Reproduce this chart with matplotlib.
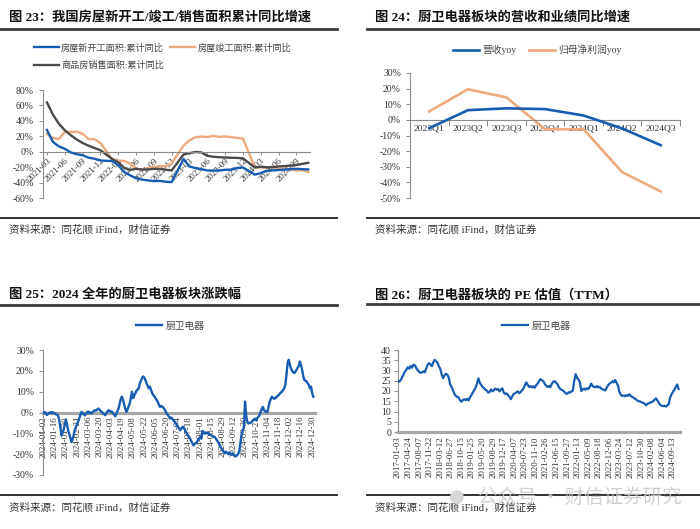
import matplotlib
matplotlib.use('Agg')
import matplotlib.pyplot as plt
from matplotlib.lines import Line2D
import numpy as np

plt.rcParams['font.family'] = ['Liberation Serif', 'Noto Sans CJK SC']
plt.rcParams['axes.unicode_minus'] = False

# ---------------- data ----------------
# Panel 1: housing cumulative yoy (%), monthly (January merged into Feb)
months1 = ['2021-03', '2021-04', '2021-05', '2021-06', '2021-07', '2021-08', '2021-09', '2021-10', '2021-11', '2021-12',
           '2022-02', '2022-03', '2022-04', '2022-05', '2022-06', '2022-07', '2022-08', '2022-09', '2022-10', '2022-11', '2022-12',
           '2023-02', '2023-03', '2023-04', '2023-05', '2023-06', '2023-07', '2023-08', '2023-09', '2023-10', '2023-11', '2023-12',
           '2024-02', '2024-03', '2024-04', '2024-05', '2024-06', '2024-07', '2024-08', '2024-09', '2024-10', '2024-11']
new_start = [28.2, 12.8, 6.9, 3.8, -0.9, -3.2, -4.5, -7.7, -9.1, -11.4,
             -12.2, -17.5, -26.3, -30.6, -34.4, -36.1, -37.2, -38.0, -37.8, -38.9, -39.4,
             -9.4, -19.2, -21.2, -22.6, -24.3, -24.5, -24.4, -23.4, -23.2, -21.2, -20.4,
             -29.7, -27.8, -24.6, -24.2, -23.7, -23.2, -22.5, -22.2, -22.6, -23.0]
completion = [22.9, 17.9, 16.4, 25.7, 25.7, 26.0, 23.4, 16.3, 16.2, 11.2,
              -9.8, -11.5, -11.9, -15.3, -21.5, -23.3, -21.1, -19.9, -18.7, -19.0, -15.0,
              8.0, 14.7, 18.8, 19.6, 19.0, 20.5, 19.2, 19.8, 19.0, 17.9, 17.0,
              -20.2, -20.7, -20.4, -19.2, -21.8, -21.8, -23.2, -24.4, -23.9, -26.2]
sales = [63.8, 48.1, 36.3, 27.7, 21.5, 15.9, 11.3, 7.8, 4.8, 1.9,
         -9.6, -13.8, -20.9, -23.6, -22.2, -23.1, -23.0, -22.2, -22.3, -23.3, -24.3,
         -3.6, -1.8, -0.4, -0.9, -5.3, -6.5, -7.1, -7.5, -7.8, -8.0, -8.5,
         -20.5, -19.4, -20.2, -20.3, -19.0, -18.6, -18.0, -17.1, -15.8, -14.3]
ticks1 = ['2021-03', '2021-06', '2021-09', '2021-12', '2022-03', '2022-06', '2022-09', '2022-12',
          '2023-03', '2023-06', '2023-09', '2023-12', '2024-03', '2024-06', '2024-09']
names1 = ['房屋新开工面积:累计同比', '房屋竣工面积:累计同比', '商品房销售面积:累计同比']

# Panel 2: revenue / net profit yoy (%)
quarters = ['2023Q1', '2023Q2', '2023Q3', '2023Q4', '2024Q1', '2024Q2', '2024Q3']
revenue_yoy = [-5.3, 6.2, 7.4, 6.9, 2.8, -5.5, -16.2]
profit_yoy = [5.4, 19.6, 14.4, -6.0, -6.0, -33.4, -45.8]
names2 = ['营收yoy', '归母净利润yoy']

# Panel 3: 2024 daily cumulative change (%) of the sector, one value per trading day
change_2024 = [0.0, 0.2, -0.3, -1.2, -0.6, -0.2, 0.1, -0.4, 0.2, -0.3,
               -0.4, -0.9, -1.0, -1.5, -3.8, -7.0, -11.0, -9.8, -8.2, -5.6,
               -3.4, -5.8, -8.6, -10.4, -12.2, -14.2, -12.8, -10.6, -8.4, -6.8,
               -5.4, -4.2, -2.6, -1.0, 0.3, -0.4, -0.9, -1.4, -0.6, 0.2,
               0.4, -0.3, 0.0, -0.5, 0.3, 0.8, 1.1, 0.9, 1.5, 1.9,
               1.4, 0.6, 0.3, -0.4, -0.8, -1.3, -0.5, 0.4, 1.1, 0.7,
               0.3, 0.5, -0.4, -1.0, -1.8, -0.6, 0.8, 1.9, 4.2, 6.5,
               7.6, 6.0, 4.0, 1.8, 0.3, 1.5, 3.0, 4.4, 7.2, 10.0,
               6.8, 8.2, 9.2, 10.4, 11.0, 11.6, 14.0, 15.2, 16.6, 17.3,
               16.8, 15.6, 14.0, 12.8, 11.6, 12.4, 10.8, 9.4, 8.4, 7.8,
               6.8, 6.0, 5.2, 3.8, 2.7, 3.2, 2.8, 2.4, 1.6, 0.6,
               -0.5, -1.2, -2.0, -2.9, -2.4, -3.0, -3.7, -4.4, -5.2, -6.1,
               -6.8, -7.6, -8.5, -7.8, -7.0, -6.9, -8.0, -9.2, -10.2, -11.0,
               -11.8, -12.6, -13.8, -14.8, -15.8, -15.0, -14.6, -14.2, -13.2, -12.4,
               -11.8, -12.6, -8.8, -9.4, -10.2, -9.6, -10.0, -9.8, -10.4, -10.8,
               -11.0, -11.4, -11.6, -11.8, -12.6, -13.4, -14.2, -15.4, -16.4, -17.4,
               -18.0, -19.0, -19.6, -18.8, -19.4, -20.0, -19.2, -19.8, -20.4, -19.6,
               -20.2, -20.8, -21.0, -20.4, -19.8, -18.2, -14.0, -10.6, -8.4, -7.2,
               5.2, -1.5, -4.6, -5.3, -4.9, -5.0, -4.5, -3.8, -3.3, -2.9,
               -3.7, -2.6, -2.0, -1.3, 0.4, 1.8, 2.7, 1.1, 0.6, 0.2,
               0.3, 2.8, 5.2, 6.4, 7.6, 7.0, 6.6, 6.8, 7.4, 7.9,
               8.4, 9.0, 9.6, 10.0, 10.8, 11.6, 13.2, 18.0, 23.7, 25.3,
               23.0, 21.3, 20.0, 19.4, 18.9, 19.6, 20.5, 21.3, 22.4, 24.5,
               22.8, 20.5, 17.4, 15.6, 15.2, 14.8, 14.0, 13.2, 11.6, 12.4,
               9.2, 7.6]
ticks3 = ['2024-01-02', '2024-01-16', '2024-01-30', '2024-02-21', '2024-03-06', '2024-03-20', '2024-04-03',
          '2024-04-19', '2024-05-08', '2024-05-22', '2024-06-05', '2024-06-20', '2024-07-04', '2024-07-18',
          '2024-08-01', '2024-08-15', '2024-08-29', '2024-09-12', '2024-09-30', '2024-10-21', '2024-11-04',
          '2024-11-18', '2024-12-02', '2024-12-16', '2024-12-30']
tick3_step = 10  # trading days between labels

# Panel 4: PE (TTM), one value per 10 trading days from 2017-01-03
pe_ttm = [25.0, 24.6, 25.4, 26.8, 28.2, 29.6, 30.4, 31.6, 30.9, 32.2,
          31.4, 32.8, 32.5, 31.2, 30.1, 29.3, 28.9, 29.0, 29.6, 29.1,
          31.0, 32.8, 33.6, 33.0, 32.1, 34.0, 35.2, 34.6, 33.8, 32.0,
          30.8, 28.0, 26.3, 27.6, 28.4, 28.0, 26.5, 23.2, 22.0, 20.4,
          18.6, 17.6, 17.2, 16.8, 15.4, 14.8, 15.6, 16.0, 15.5, 16.2,
          15.4, 16.8, 18.0, 19.2, 20.4, 21.6, 23.5, 26.2, 24.0, 23.0,
          22.0, 21.4, 20.6, 20.2, 19.2, 19.6, 20.8, 19.8, 20.4, 21.2,
          20.6, 21.0, 19.8, 20.6, 21.3, 19.2, 18.6, 18.8, 18.0, 17.2,
          16.0, 17.4, 18.5, 18.9, 19.4, 19.8, 19.0, 19.5, 20.4, 21.2,
          22.8, 24.2, 23.0, 22.0, 22.4, 21.8, 22.3, 21.6, 22.8, 23.6,
          24.8, 25.8, 25.2, 24.8, 23.6, 22.6, 22.0, 22.4, 21.8, 23.4,
          24.4, 24.8, 24.2, 23.4, 22.0, 21.0, 20.6, 20.2, 19.6, 18.8,
          18.6, 19.4, 19.2, 19.8, 20.2, 25.0, 28.2, 26.4, 25.6, 24.2,
          20.0, 20.8, 21.2, 20.6, 21.4, 21.0, 22.0, 23.6, 22.4, 22.0,
          21.8, 22.4, 21.8, 22.0, 21.2, 20.8, 20.6, 20.2, 21.6, 22.8,
          23.6, 24.0, 24.8, 24.2, 25.4, 24.0, 22.6, 19.6, 18.2, 17.6,
          17.8, 17.4, 18.0, 17.6, 18.4, 17.6, 17.2, 16.8, 16.2, 15.8,
          15.2, 15.0, 14.8, 14.4, 14.2, 13.8, 13.0, 13.8, 14.0, 14.4,
          14.6, 15.0, 15.8, 16.4, 15.4, 14.2, 13.2, 12.8, 12.6, 12.8,
          12.4, 12.9, 13.6, 16.8, 18.4, 19.6, 20.6, 22.0, 23.2, 21.0]
pe_step = 10
ticks4 = ['2017-01-03', '2017-04-24', '2017-08-07', '2017-11-22', '2018-03-12', '2018-06-27', '2018-10-15',
          '2019-01-25', '2019-05-20', '2019-08-29', '2019-12-17', '2020-04-07', '2020-07-23', '2020-11-10',
          '2021-02-26', '2021-06-15', '2021-09-27', '2022-01-13', '2022-05-09', '2022-08-18', '2022-12-06',
          '2023-03-24', '2023-07-12', '2023-10-30', '2024-02-08', '2024-06-04', '2024-09-13']
tick4_step = 75
sector = '厨卫电器'

titles = ['图 23：我国房屋新开工/竣工/销售面积累计同比增速',
          '图 24：厨卫电器板块的营收和业绩同比增速',
          '图 25：2024 全年的厨卫电器板块涨跌幅',
          '图 26：厨卫电器板块的 PE 估值（TTM）']
source = '资料来源：同花顺 iFind，财信证券'

# ---------------- styles ----------------
BLUE = '#175CB0'
ORANGE = '#EDAA7E'
DARK = '#4A4A4A'
AXC = '#8C8C8C'
THICK = '#A6A6A6'

W, H = 700, 529
fig = plt.figure(figsize=(7, 5.29), dpi=100)


def rect(x0, y0, x1, y1):
    return [x0 / W, 1 - y1 / H, (x1 - x0) / W, (y1 - y0) / H]


def fx(x):
    return x / W


def fy(y):
    return 1 - y / H


def hline(x0, x1, y, lw, color):
    fig.add_artist(Line2D([fx(x0), fx(x1)], [fy(y), fy(y)], lw=lw, color=color,
                          transform=fig.transFigure))


def frame(x_title, y_title, x0, x1, y_ul, y_bl, y_src, title):
    fig.text(fx(x_title), fy(y_title), title, fontsize=9.5, fontweight='bold',
             va='center', ha='left', color='#111111')
    hline(x0, x1, y_ul, 2.0, '#3A3A3A')
    hline(x0, x1, y_bl, 1.3, '#222222')
    fig.text(fx(x_title), fy(y_src), source, fontsize=7.6, va='center', ha='left',
             color='#333333')


def style_axes(ax):
    for s in ['top', 'right']:
        ax.spines[s].set_visible(False)
    ax.spines['left'].set_color(AXC)
    ax.spines['left'].set_linewidth(0.8)
    ax.spines['bottom'].set_color(AXC)
    ax.spines['bottom'].set_linewidth(0.8)
    ax.tick_params(axis='both', colors=AXC, labelcolor='#333333', labelsize=7,
                   length=3, width=0.7)
    ax.patch.set_alpha(0)


frame(9, 17, 0, 337, 29.3, 218.3, 229, titles[0])
frame(375, 17, 367, 700, 29.3, 218.3, 229, titles[1])
frame(9, 295, 0, 337, 305, 495, 507, titles[2])
frame(375, 295, 367, 700, 304, 495, 507, titles[3])


def month_index(s):
    y, m = s.split('-')
    return (int(y) - 2021) * 12 + int(m) - 3


# ---------------- panel 1 ----------------
ax1 = fig.add_axes(rect(43, 90, 310, 198))
style_axes(ax1)
x1 = [month_index(m) for m in months1]
l_ns, = ax1.plot(x1, new_start, color=BLUE, lw=1.7, zorder=3)
l_cp, = ax1.plot(x1, completion, color=ORANGE, lw=1.7, zorder=2)
l_sa, = ax1.plot(x1, sales, color=DARK, lw=1.7, zorder=2)
ax1.set_ylim(-60, 80)
ax1.set_xlim(-0.67, 44.3)
ax1.set_yticks(np.arange(-60, 81, 20))
ax1.set_yticklabels([f'{v}%' for v in range(-60, 81, 20)])
ax1.spines['bottom'].set_position(('data', 0))
ax1.set_xticks([month_index(t) for t in ticks1])
ax1.set_xticklabels(ticks1, rotation=45, ha='right', va='top', rotation_mode='anchor', fontsize=6.5)
ax1.tick_params(axis='x', length=2, pad=1.5)
leg1 = ax1.legend([l_ns, l_sa, l_cp], [names1[0], names1[2], names1[1]], ncol=2,
                  loc='upper left', bbox_to_anchor=(fx(34), fy(43)), bbox_transform=fig.transFigure,
                  frameon=False, fontsize=6.6, handlelength=2.7, handletextpad=0.25,
                  columnspacing=0.7, labelspacing=0.95, borderpad=0, borderaxespad=0)
for t in leg1.get_texts():
    t.set_color('#444444')

# ---------------- panel 2 ----------------
ax2 = fig.add_axes(rect(410, 73, 680, 198))
style_axes(ax2)
xq = np.arange(len(quarters))
l_rev, = ax2.plot(xq, revenue_yoy, color=BLUE, lw=1.9, zorder=3)
l_pro, = ax2.plot(xq, profit_yoy, color=ORANGE, lw=1.9, zorder=2)
ax2.set_ylim(-50, 30)
ax2.set_xlim(-0.5, len(quarters) - 0.5)
ax2.set_yticks(np.arange(-50, 31, 10))
ax2.set_yticklabels([f'{v}%' for v in range(-50, 31, 10)])
ax2.spines['bottom'].set_position(('data', 0))
ax2.set_xticks(xq)
ax2.set_xticklabels(quarters, fontsize=6.8)
ax2.set_xticks(np.arange(-0.5, len(quarters), 1.0), minor=True)
ax2.tick_params(axis='x', which='major', length=0, pad=3)
ax2.tick_params(axis='x', which='minor', length=4, width=0.7, colors=AXC)
leg2 = ax2.legend([l_rev, l_pro], names2, ncol=2,
                  loc='center left', bbox_to_anchor=(fx(453), fy(50)), bbox_transform=fig.transFigure,
                  frameon=False, fontsize=7, handlelength=2.7, handletextpad=0.3,
                  columnspacing=1.3, borderpad=0, borderaxespad=0)
for t in leg2.get_texts():
    t.set_color('#444444')

# ---------------- panel 3 ----------------
ax3 = fig.add_axes(rect(43, 350, 315, 475))
style_axes(ax3)
x3 = np.arange(len(change_2024))
l3, = ax3.plot(x3, change_2024, color=BLUE, lw=1.7, zorder=3)
ax3.set_ylim(-30, 30)
ax3.set_xlim(-0.5, 242.5)
ax3.set_yticks(np.arange(-30, 31, 10))
ax3.set_yticklabels([f'{v}%' for v in range(-30, 31, 10)])
ax3.spines['bottom'].set_position(('data', 0))
ax3.spines['bottom'].set_color(THICK)
ax3.spines['bottom'].set_linewidth(2.3)
ax3.spines['bottom'].set_zorder(1)
ax3.set_xticks(np.arange(len(ticks3)) * tick3_step)
ax3.set_xticklabels(ticks3, rotation=90, fontsize=6.4, va='top', ha='center')
ax3.tick_params(axis='x', length=0, pad=2.5)
leg3 = ax3.legend([l3], [sector], loc='center left', bbox_to_anchor=(fx(136), fy(326)),
                  bbox_transform=fig.transFigure, frameon=False, fontsize=7,
                  handlelength=2.7, handletextpad=0.3, borderpad=0, borderaxespad=0)
for t in leg3.get_texts():
    t.set_color('#444444')

# ---------------- panel 4 ----------------
ax4 = fig.add_axes(rect(398, 350, 680, 432))
style_axes(ax4)
x4 = np.arange(len(pe_ttm)) * pe_step
l4, = ax4.plot(x4, pe_ttm, color=BLUE, lw=1.6, zorder=3)
ax4.set_ylim(0, 40)
ax4.set_xlim(0, 2000)
ax4.set_yticks(np.arange(0, 41, 5))
ax4.spines['bottom'].set_color(THICK)
ax4.spines['bottom'].set_linewidth(2.3)
ax4.set_xticks(np.arange(len(ticks4)) * tick4_step)
ax4.set_xticklabels(ticks4, rotation=90, fontsize=6.4, va='top', ha='center')
ax4.tick_params(axis='x', length=0, pad=3)
ax4.tick_params(axis='y', pad=2)
leg4 = ax4.legend([l4], [sector], loc='center left', bbox_to_anchor=(fx(502), fy(326)),
                  bbox_transform=fig.transFigure, frameon=False, fontsize=7,
                  handlelength=2.7, handletextpad=0.3, borderpad=0, borderaxespad=0)
for t in leg4.get_texts():
    t.set_color('#444444')

# watermark (overlaps the source line in the original too)
fig.text(fx(457), fy(497), '●', fontsize=13, color='#D6D6D6', ha='center', va='center',
         family=['DejaVu Sans'])
fig.text(fx(478), fy(497), '公众号 · 财信证券研究', fontsize=14, color='#C8C8C8',
         ha='left', va='center', family=['Noto Sans CJK SC'], alpha=0.85)

fig.savefig('out.png', dpi=100)
